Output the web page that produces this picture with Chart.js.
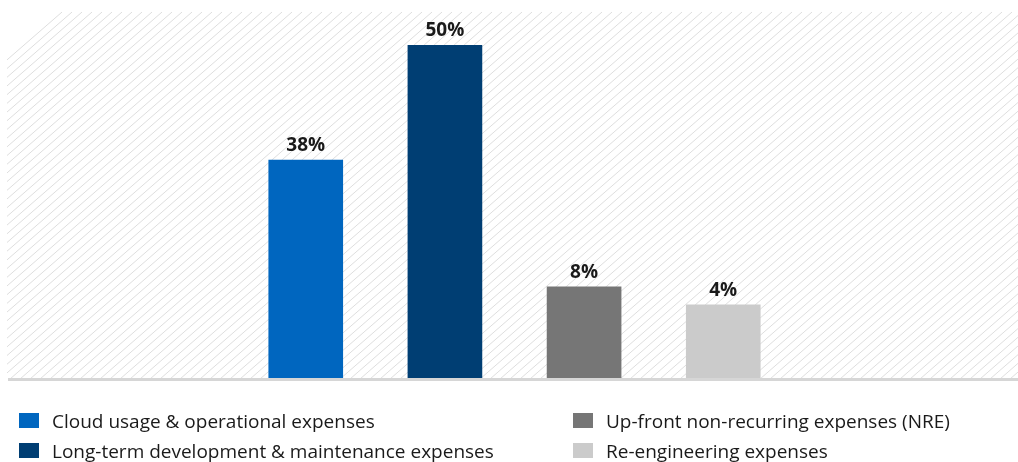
<!DOCTYPE html>
<html>
<head>
<meta charset="utf-8">
<script src="https://cdn.jsdelivr.net/npm/chart.js@4.4.1/dist/chart.umd.min.js"></script>
<style>
  body { margin: 0; background: #fff; width: 1018px; height: 462px; overflow: hidden; font-family: "Open Sans", sans-serif; }
  #wrap { position: relative; width: 1018px; height: 390px; }
  #legend { position: absolute; left: 0; top: 0; width: 1018px; height: 462px; pointer-events: none; }
  .item { position: absolute; font-size: 19px; color: #1a1a1a; white-space: nowrap; line-height: 20px; }
  .box { position: absolute; width: 20px; height: 15px; }
</style>
</head>
<body>
<div id="wrap"><canvas id="container"></canvas></div>
<div id="legend"></div>
<script>
var categories = ["", "Cloud usage & operational expenses", "Long-term development & maintenance expenses", "Up-front non-recurring expenses (NRE)", "Re-engineering expenses", ""]
var values = [null, 32.8, 50, 13.8, 11.1, null]
var valueLabels = ["", "38%", "50%", "8%", "4%", ""]
var colors = ["#ffffff", "#0066bf", "#003e73", "#767676", "#cbcbcb", "#ffffff"]

var hatch = {
  id: "hatch",
  beforeDraw: function(chart) {
    var ctx = chart.ctx
    var area = chart.chartArea
    var left = 7, right = chart.width, top = area.top, bottom = area.bottom
    ctx.save()
    ctx.beginPath()
    ctx.rect(left, top, right - left, bottom - top)
    ctx.clip()
    ctx.strokeStyle = "#dedede"
    ctx.lineWidth = 1
    var h = bottom - top
    for (var x = left - h; x < right + h; x += 10) {
      ctx.beginPath()
      ctx.moveTo(x, bottom)
      ctx.lineTo(x + h * 1.15, top)
      ctx.stroke()
    }
    ctx.restore()
  },
  afterDatasetsDraw: function(chart) {
    var ctx = chart.ctx
    var area = chart.chartArea
    ctx.save()
    ctx.fillStyle = "#d6d6d6"
    ctx.fillRect(8, area.bottom - 1, chart.width - 8, 3)
    var meta = chart.getDatasetMeta(0)
    ctx.fillStyle = "#1a1a1a"
    ctx.font = "bold 19px 'Open Sans', sans-serif"
    ctx.textAlign = "center"
    ctx.textBaseline = "bottom"
    meta.data.forEach(function(bar, i) {
      if (values[i] == null) return
      ctx.fillText(valueLabels[i], bar.x, bar.y - 5)
    })
    ctx.restore()
  }
}

function renderChart() {
  var container = document.getElementById("container")
  container.width = 1018
  container.height = 390
  new Chart(container, {
    type: "bar",
    data: {
      labels: categories,
      datasets: [{
        data: values,
        backgroundColor: colors,
        barThickness: 74
      }]
    },
    options: {
      responsive: false,
      animation: false,
      layout: { padding: { left: 97, right: 86, top: 12, bottom: 11 } },
      plugins: { legend: { display: false }, tooltip: { enabled: false } },
      scales: {
        x: { display: false },
        y: { display: false, min: 0, max: 55 }
      }
    },
    plugins: [hatch]
  })
}

function renderLegend() {
  var legend = document.getElementById("legend")
  var pos = [null, [19, 411], [19, 441], [573, 411], [573, 441], null]
  for (var i = 0; i < categories.length; i++) {
    if (!pos[i]) continue
    var box = document.createElement("div")
    box.className = "box"
    box.style.left = pos[i][0] + "px"
    box.style.top = (pos[i][1] + 2) + "px"
    box.style.background = colors[i]
    legend.appendChild(box)
    var item = document.createElement("div")
    item.className = "item"
    item.style.left = (pos[i][0] + 33) + "px"
    item.style.top = pos[i][1] + "px"
    item.textContent = categories[i]
    legend.appendChild(item)
  }
}

renderChart()
renderLegend()
</script>
</body>
</html>
